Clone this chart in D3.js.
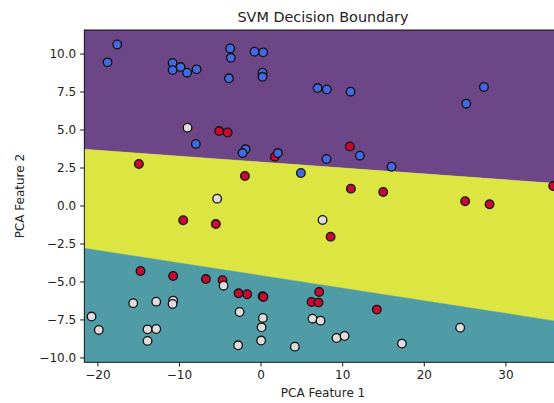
<!DOCTYPE html>
<html><head><meta charset="utf-8">
<script src="https://cdn.jsdelivr.net/npm/d3@7"></script>
<style>html,body{margin:0;padding:0;background:#fff;}svg{display:block;}</style>
</head><body><div id="chart"></div>
<script>
// ---- data ----
const xTicks = [-20, -10, 0, 10, 20, 30];
const yTicks = [-10, -7.5, -5, -2.5, 0, 2.5, 5, 7.5, 10];
const xDomain = [-21.6, 36.9];
const yDomain = [-10.32, 11.55];
// decision boundaries: y = intercept + slope * x
const upperBoundary = {intercept: 2.86, slope: -0.0389};
const lowerBoundary = {intercept: -4.61, slope: -0.083};
const regionNames = ["class0", "class1", "class2"];
const regionColors = ["#6c4686", "#4f9ca6", "#dde543"];
const pointColors = ["#4169e1", "#e1dcdc", "#c70a30"];

const class0X = [-18.75,-17.57,-10.78,-10.78,-9.8,-9.0,-7.84,-3.72,-3.64,-3.88,-0.74,0.32,0.24,0.24,6.99,8.12,11.03,25.2,27.37,-7.93,-1.84,-2.21,2.12,12.17,8.08,4.94,16.05];
const class0Y = [9.42,10.6,9.38,8.91,9.11,8.74,8.96,10.34,9.72,8.37,10.12,10.08,8.74,8.47,7.73,7.64,7.49,6.70,7.80,4.05,3.70,3.45,3.45,3.28,3.06,2.14,2.55];
const class1X = [-8.95,-5.32,7.6,-4.53,-15.61,-12.79,-10.71,-10.78,-2.57,-20.71,-19.82,-13.85,-12.79,-13.85,0.28,0.12,0.07,-2.75,4.2,6.37,7.35,9.31,10.29,17.32,24.46];
const class1Y = [5.12,0.45,-0.95,-5.28,-6.43,-6.33,-6.26,-6.48,-7.01,-7.31,-8.19,-8.15,-8.13,-8.91,-7.40,-8.02,-8.89,-9.2,-9.29,-7.45,-7.58,-8.72,-8.59,-9.09,-8.04];
const class2X = [-5.07,-4.04,1.75,10.94,-1.92,11.07,15.03,-5.48,8.58,25.07,28.06,35.86,-14.91,-9.48,-14.71,-10.71,-6.7,-4.66,-2.7,-1.64,0.25,0.35,7.18,6.25,7.1,14.25];
const class2Y = [4.9,4.81,3.21,3.89,1.94,1.11,0.89,-1.22,-2.05,0.28,0.08,1.28,2.73,-0.97,-4.31,-4.64,-4.84,-4.92,-5.78,-5.84,-5.97,-6.02,-5.69,-6.35,-6.39,-6.85];

// ---- layout ----
const W = 554, H = 403;
const mLeft = 84.3, mRight = 561.7, mTop = 30, mBottom = 362.3;
const svg = d3.select("#chart").append("svg").attr("width", W).attr("height", H)
  .style("font-family", "DejaVu Sans, sans-serif");

const x = d3.scaleLinear().domain(xDomain).range([mLeft, mRight]);
const y = d3.scaleLinear().domain(yDomain).range([mBottom, mTop]);

svg.append("clipPath").attr("id", "plotclip").append("rect")
  .attr("x", mLeft).attr("y", mTop).attr("width", mRight - mLeft).attr("height", mBottom - mTop);

const g = svg.append("g").attr("clip-path", "url(#plotclip)");
const line = (b, v) => b.intercept + b.slope * v;
const xs = xDomain;

const regions = [
  {name: "class0", lo: v => line(upperBoundary, v), hi: v => yDomain[1], c: regionColors[0]},
  {name: "class2", lo: v => line(lowerBoundary, v), hi: v => line(upperBoundary, v), c: regionColors[2]},
  {name: "class1", lo: v => yDomain[0], hi: v => line(lowerBoundary, v), c: regionColors[1]}
];
const area = d3.area().x(d => x(d.v)).y0(d => y(d.lo)).y1(d => y(d.hi));
regions.forEach(r => {
  const pts = xs.map(v => ({v, lo: r.lo(v), hi: r.hi(v)}));
  g.append("path").attr("d", area(pts)).attr("fill", r.c).attr("stroke", r.c).attr("stroke-width", 0.5);
});

// points: red first, white, then blue on top
const groups = [
  {xs: class2X, ys: class2Y, c: pointColors[2]},
  {xs: class1X, ys: class1Y, c: pointColors[1]},
  {xs: class0X, ys: class0Y, c: pointColors[0]}
];
groups.forEach(gr => {
  g.selectAll(null).data(gr.xs.map((v, i) => [v, gr.ys[i]])).enter().append("circle")
    .attr("cx", d => x(d[0])).attr("cy", d => y(d[1])).attr("r", 4.3)
    .attr("fill", gr.c).attr("stroke", "#111").attr("stroke-width", 1.3);
});

// axes
const xAxis = d3.axisBottom(x).tickValues(xTicks).tickSize(4.2).tickPadding(4)
  .tickFormat(d => d3.format("d")(d).replace("-", "\u2212"));
const yAxis = d3.axisLeft(y).tickValues(yTicks).tickSize(4.2).tickPadding(4)
  .tickFormat(d => d3.format(".1f")(d).replace("-", "\u2212"));
const gx = svg.append("g").attr("transform", `translate(0,${mBottom})`).call(xAxis);
const gy = svg.append("g").attr("transform", `translate(${mLeft},0)`).call(yAxis);
[gx, gy].forEach(a => {
  a.select(".domain").remove();
  a.selectAll("line").attr("stroke", "#000").attr("stroke-width", 0.9);
  a.selectAll("text").attr("fill", "#222").style("font-size", "12px").style("font-family", "DejaVu Sans, sans-serif");
});
// spines
svg.append("rect").attr("x", mLeft).attr("y", mTop).attr("width", mRight - mLeft).attr("height", mBottom - mTop)
  .attr("fill", "none").attr("stroke", "#000").attr("stroke-width", 0.9);

svg.append("text").attr("x", (mLeft + mRight) / 2).attr("y", 22).attr("text-anchor", "middle")
  .style("font-size", "14.4px").attr("fill", "#222").text("SVM Decision Boundary");
svg.append("text").attr("x", (mLeft + mRight) / 2).attr("y", 397).attr("text-anchor", "middle")
  .style("font-size", "12px").attr("fill", "#222").text("PCA Feature 1");
svg.append("text").attr("transform", `translate(24,${(mTop + mBottom) / 2}) rotate(-90)`).attr("text-anchor", "middle")
  .style("font-size", "12px").attr("fill", "#222").text("PCA Feature 2");
</script></body></html>
